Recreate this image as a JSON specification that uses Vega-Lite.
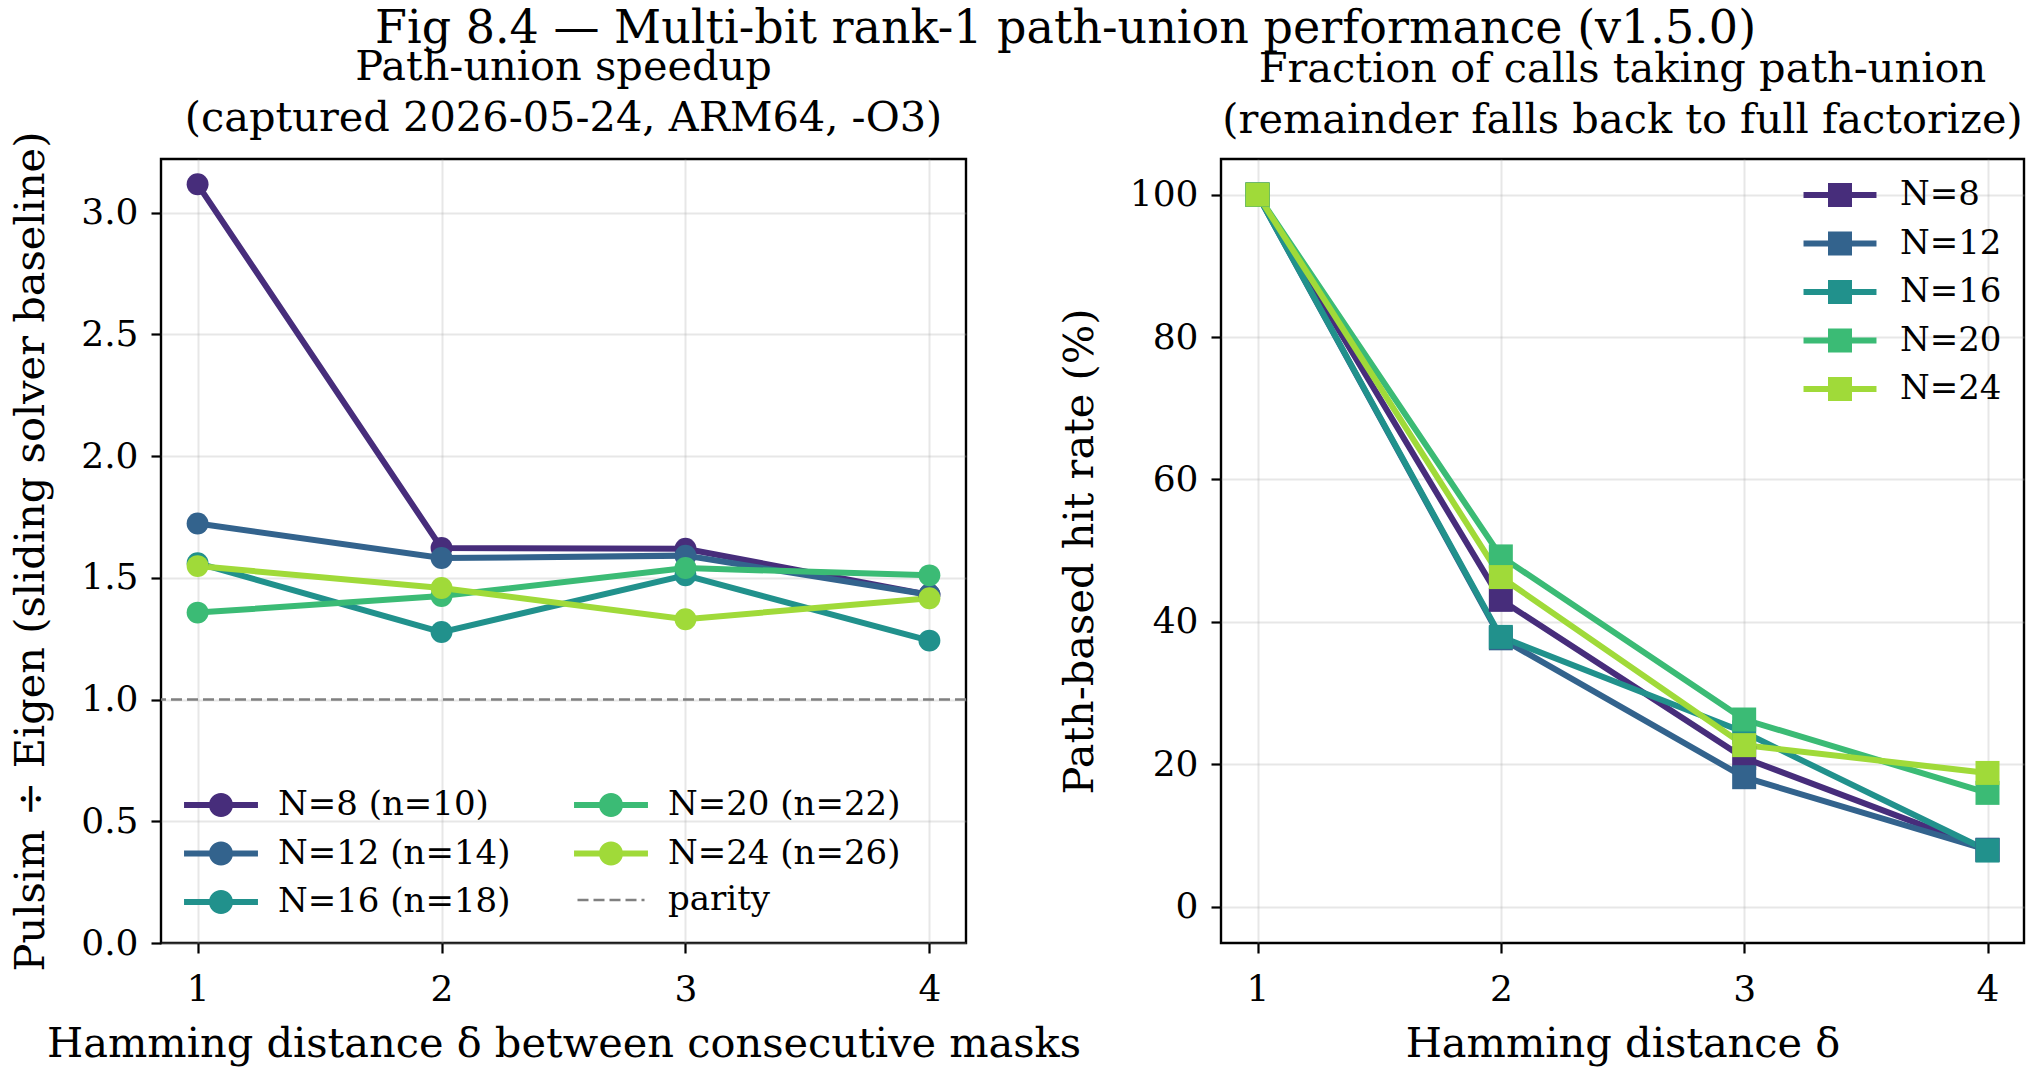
{
  "$schema": "https://vega.github.io/schema/vega-lite/v6.json",
  "background": "white",
  "padding": {"left": 9, "top": 6, "right": 10, "bottom": 10},
  "title": {
    "text": "Fig 8.4 — Multi-bit rank-1 path-union performance (v1.5.0)",
    "font": "DejaVu Serif", "fontSize": 46, "fontWeight": "normal", "color": "black",
    "anchor": "start", "frame": "group", "dx": 214, "offset": -8
  },
  "datasets": {
    "speedup": [
      {"N": "N=8 (n=10)", "delta": 1, "speedup": 3.116},
      {"N": "N=8 (n=10)", "delta": 2, "speedup": 1.622},
      {"N": "N=8 (n=10)", "delta": 3, "speedup": 1.619},
      {"N": "N=8 (n=10)", "delta": 4, "speedup": 1.430},
      {"N": "N=12 (n=14)", "delta": 1, "speedup": 1.723},
      {"N": "N=12 (n=14)", "delta": 2, "speedup": 1.581},
      {"N": "N=12 (n=14)", "delta": 3, "speedup": 1.591},
      {"N": "N=12 (n=14)", "delta": 4, "speedup": 1.430},
      {"N": "N=16 (n=18)", "delta": 1, "speedup": 1.560},
      {"N": "N=16 (n=18)", "delta": 2, "speedup": 1.277},
      {"N": "N=16 (n=18)", "delta": 3, "speedup": 1.510},
      {"N": "N=16 (n=18)", "delta": 4, "speedup": 1.242},
      {"N": "N=20 (n=22)", "delta": 1, "speedup": 1.357},
      {"N": "N=20 (n=22)", "delta": 2, "speedup": 1.425},
      {"N": "N=20 (n=22)", "delta": 3, "speedup": 1.540},
      {"N": "N=20 (n=22)", "delta": 4, "speedup": 1.510},
      {"N": "N=24 (n=26)", "delta": 1, "speedup": 1.548},
      {"N": "N=24 (n=26)", "delta": 2, "speedup": 1.458},
      {"N": "N=24 (n=26)", "delta": 3, "speedup": 1.330},
      {"N": "N=24 (n=26)", "delta": 4, "speedup": 1.416}
    ],
    "parity": [{"series": "parity", "speedup": 1.0}],
    "hit": [
      {"N": "N=8", "delta": 1, "rate": 100},
      {"N": "N=8", "delta": 2, "rate": 43.1},
      {"N": "N=8", "delta": 3, "rate": 20.9},
      {"N": "N=8", "delta": 4, "rate": 8.0},
      {"N": "N=12", "delta": 1, "rate": 100},
      {"N": "N=12", "delta": 2, "rate": 37.7},
      {"N": "N=12", "delta": 3, "rate": 18.2},
      {"N": "N=12", "delta": 4, "rate": 8.0},
      {"N": "N=16", "delta": 1, "rate": 100},
      {"N": "N=16", "delta": 2, "rate": 37.9},
      {"N": "N=16", "delta": 3, "rate": 24.5},
      {"N": "N=16", "delta": 4, "rate": 7.9},
      {"N": "N=20", "delta": 1, "rate": 100},
      {"N": "N=20", "delta": 2, "rate": 49.2},
      {"N": "N=20", "delta": 3, "rate": 26.3},
      {"N": "N=20", "delta": 4, "rate": 16.0},
      {"N": "N=24", "delta": 1, "rate": 100},
      {"N": "N=24", "delta": 2, "rate": 46.3},
      {"N": "N=24", "delta": 3, "rate": 22.7},
      {"N": "N=24", "delta": 4, "rate": 18.8}
    ]
  },
  "spacing": 255,
  "bounds": "flush",
  "resolve": {
    "scale": {"color": "independent", "stroke": "independent", "strokeDash": "independent"},
    "legend": {"color": "independent", "stroke": "independent", "strokeDash": "independent"}
  },
  "hconcat": [
    {
      "width": 805,
      "height": 784,
      "title": {"text": ["Path-union speedup", "(captured 2026-05-24, ARM64, -O3)"]},
      "layer": [
        {
          "data": {"name": "parity"},
          "mark": {"type": "rule", "color": "#808080", "strokeWidth": 2.6},
          "encoding": {
            "y": {"field": "speedup", "type": "quantitative"},
            "strokeDash": {
              "field": "series", "type": "nominal",
              "scale": {"domain": ["parity"], "range": [[11, 5]]},
              "legend": {
                "title": null,
                "orient": "none",
                "legendX": 415,
                "legendY": 706,
                "symbolType": "stroke",
                "symbolSize": 4489,
                "symbolStrokeColor": "#808080",
                "symbolStrokeWidth": 2.6,
                "labelOffset": 22,
                "labelLimit": 500
              }
            }
          }
        },
        {
          "data": {"name": "speedup"},
          "mark": {"type": "line", "strokeWidth": 6},
          "encoding": {
            "x": {"field": "delta", "type": "quantitative"},
            "y": {"field": "speedup", "type": "quantitative"},
            "stroke": {
              "field": "N", "type": "nominal",
              "scale": {
                "domain": ["N=8 (n=10)", "N=12 (n=14)", "N=16 (n=18)", "N=20 (n=22)", "N=24 (n=26)"],
                "range": ["#472d7b", "#33638d", "#21918c", "#3bbb75", "#a0da39"]
              }
            }
          }
        },
        {
          "data": {"name": "speedup"},
          "mark": {"type": "point", "shape": "circle", "filled": true, "opacity": 1, "size": 480},
          "encoding": {
            "x": {
              "field": "delta", "type": "quantitative",
              "scale": {"domain": [0.85, 4.15], "nice": false, "zero": false},
              "axis": {"title": "Hamming distance δ between consecutive masks", "values": [1, 2, 3, 4], "format": "d"}
            },
            "y": {
              "field": "speedup", "type": "quantitative",
              "scale": {"domain": [0, 3.22], "nice": false, "zero": false},
              "axis": {"title": "Pulsim ÷ Eigen (sliding solver baseline)", "values": [0, 0.5, 1, 1.5, 2, 2.5, 3], "format": ".1f"}
            },
            "color": {
              "field": "N", "type": "nominal",
              "scale": {
                "domain": ["N=8 (n=10)", "N=12 (n=14)", "N=16 (n=18)", "N=20 (n=22)", "N=24 (n=26)"],
                "range": ["#472d7b", "#33638d", "#21918c", "#3bbb75", "#a0da39"]
              },
              "legend": {
                "title": null,
                "orient": "none",
                "legendX": 43,
                "legendY": 629,
                "columns": 2,
                "symbolType": "M-3.08,-0.25H3.08V0.25H-3.08Z M-1,0A1,1 0 1,1 1,0A1,1 0 1,1 -1,0Z",
                "symbolSize": 576,
                "symbolStrokeWidth": 0,
                "symbolOpacity": 1,
                "labelOffset": 40,
                "labelLimit": 500,
                "rowPadding": 14.5,
                "columnPadding": 63
              }
            }
          }
        }
      ]
    },
    {
      "width": 803,
      "height": 784,
      "title": {"text": ["Fraction of calls taking path-union", "(remainder falls back to full factorize)"], "offset": 18},
      "layer": [
        {
          "data": {"name": "hit"},
          "mark": {"type": "line", "strokeWidth": 6},
          "encoding": {
            "x": {"field": "delta", "type": "quantitative"},
            "y": {"field": "rate", "type": "quantitative"},
            "stroke": {
              "field": "N", "type": "nominal",
              "scale": {
                "domain": ["N=8", "N=12", "N=16", "N=20", "N=24"],
                "range": ["#472d7b", "#33638d", "#21918c", "#3bbb75", "#a0da39"]
              }
            }
          }
        },
        {
          "data": {"name": "hit"},
          "mark": {"type": "point", "shape": "square", "filled": true, "opacity": 1, "size": 576},
          "encoding": {
            "x": {
              "field": "delta", "type": "quantitative",
              "scale": {"domain": [0.85, 4.15], "nice": false, "zero": false},
              "axis": {"title": "Hamming distance δ", "values": [1, 2, 3, 4], "format": "d"}
            },
            "y": {
              "field": "rate", "type": "quantitative",
              "scale": {"domain": [-5.08, 105.0], "nice": false, "zero": false},
              "axis": {"title": "Path-based hit rate (%)", "values": [0, 20, 40, 60, 80, 100], "format": "d"}
            },
            "color": {
              "field": "N", "type": "nominal",
              "scale": {
                "domain": ["N=8", "N=12", "N=16", "N=20", "N=24"],
                "range": ["#472d7b", "#33638d", "#21918c", "#3bbb75", "#a0da39"]
              },
              "legend": {
                "title": null,
                "orient": "none",
                "legendX": 602,
                "legendY": 19,
                "symbolType": "M-3.04,-0.25H3.04V0.25H-3.04Z M-1,-1H1V1H-1Z",
                "symbolSize": 576,
                "symbolStrokeWidth": 0,
                "symbolOpacity": 1,
                "labelOffset": 43,
                "labelLimit": 500,
                "rowPadding": 14.5
              }
            }
          }
        }
      ]
    }
  ],
  "config": {
    "font": "DejaVu Serif",
    "view": {"stroke": "black", "strokeWidth": 2.4},
    "axis": {
      "labelFont": "DejaVu Serif", "labelFontSize": 36, "labelColor": "black",
      "titleFont": "DejaVu Serif", "titleFontSize": 41.5, "titleFontWeight": "normal", "titleColor": "black",
      "tickColor": "black", "tickWidth": 2.2, "tickSize": 10,
      "domain": false, "grid": true, "gridColor": "#b0b0b0", "gridOpacity": 0.3, "gridWidth": 2
    },
    "axisX": {"labelPadding": 19, "titlePadding": 16},
    "axisY": {"labelPadding": 13, "titlePadding": 28},
    "title": {"font": "DejaVu Serif", "fontSize": 41.5, "fontWeight": "normal", "color": "black", "lineHeight": 51, "offset": -8},
    "legend": {"labelFont": "DejaVu Serif", "labelFontSize": 34, "labelColor": "black", "padding": 0}
  }
}
